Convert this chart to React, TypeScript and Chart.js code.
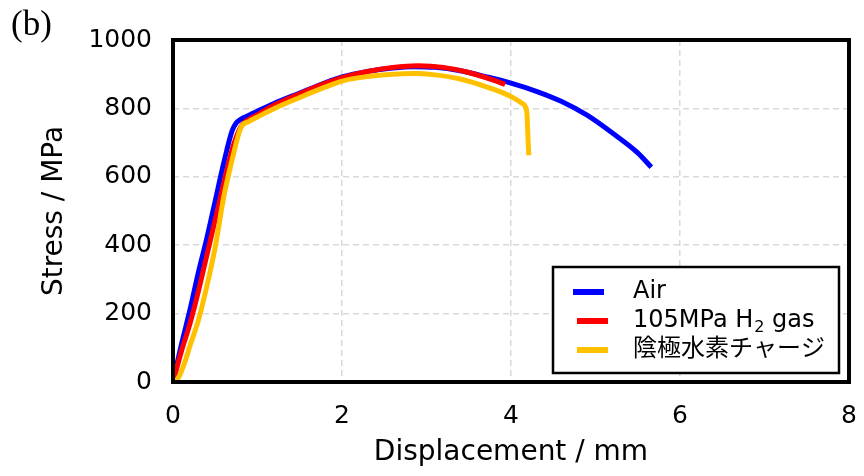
import React, { useEffect, useRef } from "react";
import { Chart, registerables } from "chart.js";

Chart.register(...registerables);

const seriesLabels = ["Air", "105MPa H2 gas", "陰極水素チャージ"];
const seriesColors = ["#0000ff", "#ff0000", "#ffc000"];

const airX = [0, 0.1, 0.2, 0.3, 0.4, 0.5, 0.6, 0.7, 0.75, 0.8, 0.9, 1.0, 1.2, 1.5, 1.8, 2.0, 2.3, 2.6, 2.85, 3.1, 3.4, 3.7, 4.0, 4.3, 4.6, 4.9, 5.2, 5.5, 5.66];
const airY = [0, 110, 210, 320, 420, 530, 640, 735, 758, 768, 780, 792, 815, 845, 875, 892, 908, 918, 922, 920, 910, 893, 874, 850, 820, 780, 728, 670, 628];

const h2X = [0, 0.1, 0.2, 0.3, 0.4, 0.5, 0.6, 0.7, 0.8, 0.85, 0.9, 1.0, 1.2, 1.5, 1.8, 2.0, 2.3, 2.6, 2.9, 3.2, 3.5, 3.8, 3.93];
const h2Y = [0, 90, 170, 265, 370, 475, 580, 680, 745, 760, 768, 782, 810, 843, 873, 890, 908, 920, 925, 920, 905, 882, 870];

const cathX = [0.03, 0.08, 0.15, 0.2, 0.3, 0.4, 0.5, 0.6, 0.7, 0.8, 0.9, 1.0, 1.2, 1.5, 1.8, 2.0, 2.3, 2.6, 2.85, 3.1, 3.4, 3.7, 3.9, 4.05, 4.13, 4.17, 4.19, 4.2, 4.21];
const cathY = [0, 20, 65, 105, 180, 280, 395, 540, 650, 742, 762, 775, 800, 832, 862, 880, 893, 900, 902, 898, 886, 864, 846, 828, 815, 805, 780, 720, 663];

const xTicks = [0, 2, 4, 6, 8];
const yTicks = [0, 200, 400, 600, 800, 1000];

const FONT = "'DejaVu Sans', 'Noto Sans CJK JP', sans-serif";

function pts(xs: number[], ys: number[]) {
  return xs.map((x, i) => ({ x, y: ys[i] }));
}

const overlay = {
  id: "overlay",
  afterDraw(chart: any) {
    const ctx = chart.ctx as CanvasRenderingContext2D;
    const a = chart.chartArea;
    ctx.save();
    ctx.strokeStyle = "#000";
    ctx.lineWidth = 4;
    ctx.strokeRect(a.left, a.top, a.right - a.left, a.bottom - a.top);
    ctx.fillStyle = "#000";
    ctx.font = "35px 'Liberation Serif', serif";
    ctx.textAlign = "left";
    ctx.textBaseline = "alphabetic";
    ctx.fillText("(b)", 11, 35);
    const bx = 553, by = 267, bw = 286, bh = 106;
    ctx.fillStyle = "#fff";
    ctx.fillRect(bx, by, bw, bh);
    ctx.lineWidth = 2.5;
    ctx.strokeStyle = "#000";
    ctx.strokeRect(bx, by, bw, bh);
    const rows = [292, 321, 350];
    const sx = [573, 577, 577];
    chart.data.datasets.forEach((ds: any, i: number) => {
      const y = rows[i];
      ctx.strokeStyle = ds.borderColor;
      ctx.lineWidth = 6;
      ctx.beginPath();
      ctx.moveTo(sx[i], y);
      ctx.lineTo(sx[i] + 31, y);
      ctx.stroke();
      ctx.fillStyle = "#000";
      ctx.textBaseline = "middle";
      ctx.textAlign = "left";
      ctx.font = `24px ${FONT}`;
      const label: string = ds.label;
      const m = label.match(/^(.*H)2( gas)$/);
      if (m) {
        let x = 633;
        ctx.fillText(m[1], x, y);
        x += ctx.measureText(m[1]).width;
        ctx.font = `16px ${FONT}`;
        ctx.fillText("2", x + 1, y + 7);
        x += ctx.measureText("2").width + 1;
        ctx.font = `24px ${FONT}`;
        ctx.fillText(m[2], x, y);
      } else {
        ctx.fillText(label, 633, y);
      }
    });
    ctx.restore();
  },
};

export default function App() {
  const ref = useRef<HTMLCanvasElement>(null);
  useEffect(() => {
    if (!ref.current) return;
    const datasets = [pts(airX, airY), pts(h2X, h2Y), pts(cathX, cathY)].map((d, i) => ({
      label: seriesLabels[i],
      data: d,
      showLine: true,
      borderColor: seriesColors[i],
      backgroundColor: seriesColors[i],
      borderWidth: 5,
      pointRadius: 0,
      cubicInterpolationMode: "monotone" as const,
      order: 3 - i,
    }));
    const chart = new Chart(ref.current, {
      type: "scatter",
      data: { datasets },
      options: {
        animation: false,
        responsive: false,
        maintainAspectRatio: false,
        layout: { padding: { top: 40, right: 15, left: 0, bottom: 0 } },
        plugins: { legend: { display: false }, tooltip: { enabled: false } },
        scales: {
          x: {
            type: "linear",
            min: 0,
            max: 8,
            afterBuildTicks: (s: any) => {
              s.ticks = xTicks.map((v) => ({ value: v }));
            },
            afterFit: (s: any) => {
              s.height = 94;
              s.paddingLeft = 0;
              s.paddingRight = 0;
            },
            ticks: { color: "#000", font: { family: FONT, size: 25 }, padding: 19, callback: (v: any) => String(v) },
            grid: { color: "#d9d9d9", lineWidth: 1.5, drawTicks: false },
            border: { display: false, dash: [6, 4] },
            title: {
              display: true,
              text: "Displacement / mm",
              color: "#000",
              font: { family: FONT, size: 28 },
              padding: { top: 0, bottom: 6 },
            },
          },
          y: {
            type: "linear",
            min: 0,
            max: 1000,
            afterBuildTicks: (s: any) => {
              s.ticks = yTicks.map((v) => ({ value: v }));
            },
            afterFit: (s: any) => {
              s.width = 173;
              s.paddingTop = 0;
              s.paddingBottom = 0;
            },
            ticks: { color: "#000", font: { family: FONT, size: 25 }, padding: 21, callback: (v: any) => String(v) },
            grid: { color: "#d9d9d9", lineWidth: 1.5, drawTicks: false },
            border: { display: false, dash: [6, 4] },
            title: {
              display: true,
              text: "Stress / MPa",
              color: "#000",
              font: { family: FONT, size: 28 },
              padding: { top: 38, bottom: 0 },
            },
          },
        },
      },
      plugins: [overlay],
    });
    return () => chart.destroy();
  }, []);
  return (
    <div style={{ position: "fixed", left: 0, top: 0, width: 864, height: 476, background: "#fff" }}>
      <canvas ref={ref} width={864} height={476} style={{ width: 864, height: 476 }} />
    </div>
  );
}
